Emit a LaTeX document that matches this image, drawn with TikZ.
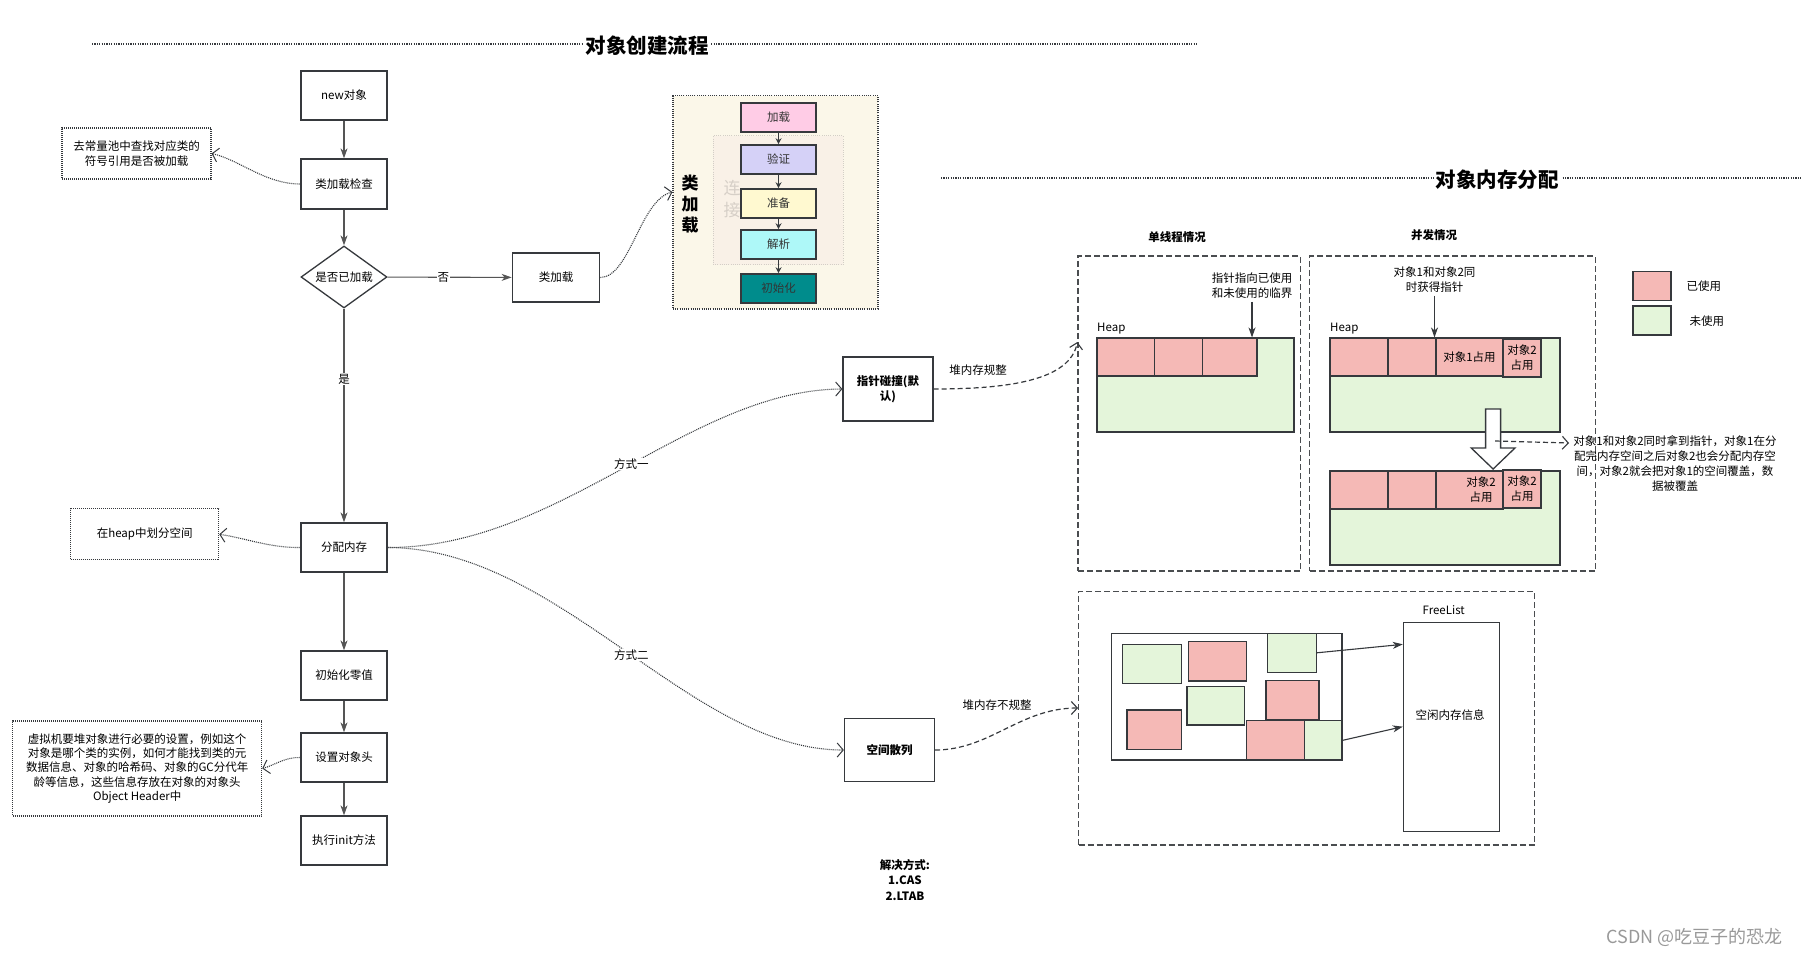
\documentclass[tikz,border=0pt]{standalone}
\usepackage{fontspec}
\setmainfont{Noto Sans CJK SC}
\usetikzlibrary{arrows.meta,shapes.geometric}
\definecolor{boxc}{HTML}{36393D}
\definecolor{arrc}{HTML}{555555}
\definecolor{pinkc}{HTML}{F5B9B6}
\definecolor{greenc}{HTML}{E4F5DA}
\definecolor{creamc}{HTML}{FBF7E9}
\definecolor{connc}{HTML}{F9F1E7}
\definecolor{connline}{HTML}{D3CEC6}
\definecolor{conntext}{HTML}{D6CFC7}
\definecolor{cA}{HTML}{FFCCE6}
\definecolor{cB}{HTML}{D5D1F7}
\definecolor{cC}{HTML}{FFF9D0}
\definecolor{cD}{HTML}{AEF8F8}
\definecolor{cE}{HTML}{008C8C}
\newcommand\normtxt{\fontsize{11.5}{15}\selectfont}
\newcommand\notetxt{\fontsize{11.5}{14.3}\selectfont}
\newcommand\bldtxt{\fontsize{11.5}{15.5}\selectfont\bfseries}
\newcommand\ttltxt{\fontsize{20.5}{24}\selectfont\bfseries}
\newcommand\bigtxt{\fontsize{17}{21.5}\selectfont}
\newcommand\bigbld{\fontsize{17}{21}\selectfont\bfseries}
\begin{document}
\begin{tikzpicture}[x=1pt,y=-1pt,
  fbx/.style={draw=boxc, line width=1.3pt, fill=white, minimum width=86pt, minimum height=49pt, inner sep=1pt, align=center, font=\normtxt},
  notebx/.style={draw=boxc, line width=1.1pt, dash pattern=on 1pt off 1pt, fill=white, inner sep=2pt, align=center, font=\normtxt},
  flow/.style={draw=arrc, line width=1.1pt, -{Stealth[length=10pt,width=7pt,inset=3pt]}},
  sflow/.style={draw=boxc, line width=1.3pt, -{Stealth[length=6pt,width=6pt,inset=2pt]}},
  dotc/.style={draw=boxc, line width=1.1pt, dash pattern=on 1pt off 1pt, -{Straight Barb[length=6pt,width=14pt,line width=1pt]}},
  dashc/.style={draw=boxc, line width=1.2pt, dash pattern=on 5pt off 3pt, -{Straight Barb[length=6pt,width=13pt,line width=1.1pt]}},
  lbl/.style={fill=white, inner sep=1pt, font=\normtxt},
  cls/.style={draw=boxc, line width=1.6pt, minimum width=75pt, minimum height=29pt, inner sep=0pt, font=\normtxt, text=black!80},
  dbx/.style={draw=boxc!90, line width=1.3pt, dash pattern=on 6pt off 3pt},
  sq/.style={draw=boxc, line width=1.1pt, inner sep=0pt},
  solid arrow/.style={draw=boxc, line width=1.1pt, -{Stealth[length=10pt,width=7pt,inset=3pt]}},
  tline/.style={draw=boxc, line width=1.3pt, dash pattern=on 1.2pt off 1.2pt}
]
\useasboundingbox (0,0) rectangle (1801,955);
\fill[white] (0,0) rectangle (1801,955);

% ---------- titles ----------
\coordinate (t1a) at (92,44);
\coordinate (t1b) at (1197,44);
\draw[tline] (t1a) -- (t1b);
\node[fill=white, inner sep=2pt, font=\ttltxt] (title1) at (647,46) {对象创建流程};
\coordinate (t2a) at (941,178);
\coordinate (t2b) at (1801,178);
\draw[tline] (t2a) -- (t2b);
\node[fill=white, inner sep=2pt, font=\ttltxt] (title2) at (1497,180) {对象内存分配};

% ---------- flow chart ----------
\node[fbx] (n1) at (344,95.5) {new对象};
\node[fbx, minimum height=50pt] (n2) at (344,184) {类加载检查};
\node[draw=boxc, line width=1.3pt, fill=white, diamond, aspect=1.4, minimum width=86pt, minimum height=62pt, inner sep=0pt, font=\normtxt] (dd) at (344,277) {是否已加载};
\node[fbx, minimum width=87.5pt] (cl) at (556,277.5) {类加载};
\node[notebx, minimum width=149pt, minimum height=51pt] (nt1) at (136.5,153.5) {去常量池中查找对应类的\\符号引用是否被加载};
\node[fbx] (alloc) at (344,547.5) {分配内存};
\node[notebx, minimum width=148pt, minimum height=51pt] (nt2) at (144.7,534.3) {在heap中划分空间};
\node[fbx] (zero) at (344,675.5) {初始化零值};
\node[fbx] (hdr) at (344,757.5) {设置对象头};
\node[fbx] (init) at (344,840.5) {执行init方法};
\node[notebx, minimum width=249pt, minimum height=95pt, font=\notetxt] (nt3) at (137.2,768.5) {虚拟机要堆对象进行必要的设置，例如这个\\对象是哪个类的实例，如何才能找到类的元\\数据信息、对象的哈希码、对象的GC分代年\\龄等信息，这些信息存放在对象的对象头\\Object Header中};

\draw[flow] (n1) -- (n2);
\draw[flow] (n2) -- (dd);
\draw[flow] (dd) -- node[lbl, pos=0.45] {否} (cl);
\draw[flow] (dd) -- node[lbl, pos=0.33] {是} (alloc);
\draw[flow] (alloc) -- (zero);
\draw[flow] (zero) -- (hdr);
\draw[flow] (hdr) -- (init);

\draw[dotc] (n2.west) .. controls (265,184) and (240,160) .. (nt1.east);
\draw[dotc] (alloc.west) .. controls (270,548) and (245,538) .. (nt2.east);
\draw[dotc] (hdr.west) .. controls (285,757) and (275,765) .. (nt3.east);

% ---------- class loading container ----------
\node[draw=boxc, line width=1.2pt, dash pattern=on 1pt off 1.2pt, fill=creamc, minimum width=205pt, minimum height=213pt] (clbox) at (775.5,202.4) {};
\node[draw=connline, line width=1pt, dash pattern=on 1pt off 1.2pt, fill=connc, minimum width=130pt, minimum height=129pt] (conn) at (778,200.4) {};
\node[font=\bigtxt, text=conntext, align=center] (conntxt) at (732,199) {连\\接};
\node[font=\bigbld, align=center] (cltxt) at (690,204) {类\\加\\载};
\node[cls, fill=cA] (s1) at (778.5,117.5) {加载};
\node[cls, fill=cB] (s2) at (778.5,159.5) {验证};
\node[cls, fill=cC] (s3) at (778.5,203.5) {准备};
\node[cls, fill=cD] (s4) at (778.5,244.5) {解析};
\node[cls, fill=cE] (s5) at (778.5,288.5) {初始化};
\draw[sflow] (s1) -- (s2);
\draw[sflow] (s2) -- (s3);
\draw[sflow] (s3) -- (s4);
\draw[sflow] (s4) -- (s5);
\draw[dotc] (cl.east) .. controls (630,277) and (640,200) .. ([yshift=10.4pt]clbox.west);

% ---------- allocation methods ----------
\node[fbx, minimum width=90pt, minimum height=64pt, font=\bldtxt] (ptr) at (888,389) {指针碰撞(默\\认)};
\node[fbx, minimum width=90pt, minimum height=63pt, font=\bldtxt] (hash) at (889.5,750) {空间散列};
\draw[dotc] (alloc.east) .. controls (560,548) and (690,390) .. node[lbl, pos=0.52] {方式一} (ptr.west);
\draw[dotc] (alloc.east) .. controls (560,548) and (690,750) .. node[lbl, pos=0.52] {方式二} (hash.west);

% ---------- single-thread ----------
\node[font=\bldtxt] (stitle) at (1177,237) {单线程情况};
\node[font=\bldtxt] (ctitle) at (1434,235) {并发情况};
\node[dbx, minimum width=222.6pt, minimum height=315pt] (sbox) at (1189.3,413.5) {};
\node[dbx, minimum width=285.6pt, minimum height=315pt] (cbox) at (1452.6,413.5) {};
\node[font=\normtxt] (lbl1) at (978,370) {堆内存规整};
\draw[dashc] (ptr.east) .. controls (1010,389) and (1070,380) .. ([yshift=71.5pt]sbox.west);

\node[font=\normtxt, anchor=base west, inner sep=0pt] (heap1) at (1097,331) {Heap};
\node[sq, fill=greenc, minimum width=197pt, minimum height=94pt] (sh) at (1195.5,385) {};
\draw[sq, fill=pinkc] (1097,338) rectangle (1154.6,376);
\draw[sq, fill=pinkc] (1154.6,338) rectangle (1202.9,376);
\draw[sq, fill=pinkc] (1202.9,338) rectangle (1257,376);
\node[font=\normtxt, align=center] (ptxt) at (1252,285.5) {指针指向已使用\\和未使用的临界};
\draw[solid arrow] (ptxt.south) -- (ptxt.south |- sh.north);

% ---------- concurrent ----------
\node[font=\normtxt, anchor=base west, inner sep=0pt] (heap2) at (1330,331) {Heap};
\node[sq, fill=greenc, minimum width=230pt, minimum height=94pt] (ctop) at (1445,385) {};
\draw[sq, fill=pinkc] (1330,338) rectangle (1388,376);
\draw[sq, fill=pinkc] (1388,338) rectangle (1436,376);
\draw[sq, fill=pinkc] (1436,338) rectangle (1503,376);
\draw[sq, fill=pinkc] (1503,339) rectangle (1541,377);
\node[font=\normtxt] (o1) at (1469.5,357) {对象1占用};
\node[font=\normtxt, align=center] (o2) at (1522,358) {对象2\\占用};
\node[font=\normtxt, align=center] (ctxt) at (1434.5,279.5) {对象1和对象2同\\时获得指针};
\draw[solid arrow] (ctxt.south) -- (ctxt.south |- ctop.north);

\node[sq, fill=greenc, minimum width=230pt, minimum height=94pt] (cbot) at (1445,518) {};
\draw[sq, fill=pinkc] (1330,471) rectangle (1388,509);
\draw[sq, fill=pinkc] (1388,471) rectangle (1436,509);
\draw[sq, fill=pinkc] (1436,471) rectangle (1503,509);
\draw[sq, fill=pinkc] (1503,470) rectangle (1541,508);
\node[font=\normtxt, align=center] (o3) at (1481,490) {对象2\\占用};
\node[font=\normtxt, align=center] (o4) at (1522,489) {对象2\\占用};

\draw[draw=boxc, line width=1.3pt, fill=white] (1485.6,409) -- (1500.6,409) -- (1500.6,448) -- (1515,448) -- (1493.1,469) -- (1471.2,448) -- (1485.6,448) -- cycle;
\coordinate (hs) at (1495,441);
\coordinate (dt) at (1569,443);
\draw[dashc] (hs) -- (dt);
\node[font=\normtxt, align=center] (desc) at (1675,464) {对象1和对象2同时拿到指针，对象1在分\\配完内存空间之后对象2也会分配内存空\\间，对象2就会把对象1的空间覆盖，数\\据被覆盖};

% legend
\node[sq, fill=pinkc, minimum width=38pt, minimum height=28.5pt] (lgp) at (1652,286) {};
\node[sq, fill=greenc, minimum width=38pt, minimum height=29pt] (lgg) at (1652,320.5) {};
\node[font=\normtxt, anchor=west] (lgpt) at (1683,285.7) {已使用};
\node[font=\normtxt, anchor=west] (lggt) at (1686,320.7) {未使用};

% ---------- free list ----------
\node[dbx, minimum width=456pt, minimum height=253.3pt] (flc) at (1306.7,718.35) {};
\node[font=\normtxt] (lbl2) at (997,705) {堆内存不规整};
\draw[dashc] (hash.east) .. controls (990,750) and (1020,708) .. ([yshift=10.35pt]flc.west);
\node[font=\normtxt] (flt) at (1443.7,610) {FreeList};
\node[draw=boxc, line width=1.3pt, fill=white, minimum width=95.8pt, minimum height=209pt] (fl) at (1451.3,727.2) {};
\node[font=\normtxt] (flx) at (1450,715) {空闲内存信息};
\node[draw=boxc, line width=1.6pt, fill=white, minimum width=230.7pt, minimum height=126.7pt] (mb) at (1226.65,696.65) {};
\node[sq, fill=greenc, minimum width=58.9pt, minimum height=38.6pt] (g1) at (1152.25,664) {};
\node[sq, fill=pinkc, minimum width=58pt, minimum height=39.3pt] (p1) at (1217.4,661.35) {};
\node[sq, fill=greenc, minimum width=48.4pt, minimum height=39pt] (g2) at (1292.1,652.8) {};
\node[sq, fill=greenc, minimum width=57.4pt, minimum height=38.3pt] (g3) at (1215.7,705.85) {};
\node[sq, fill=pinkc, minimum width=53pt, minimum height=38.6pt] (p2) at (1292.5,700) {};
\node[sq, fill=pinkc, minimum width=54.2pt, minimum height=39.3pt] (p3) at (1154.1,729.65) {};
\node[sq, fill=pinkc, minimum width=57.9pt, minimum height=39.3pt] (p4) at (1275.35,740.35) {};
\node[sq, fill=greenc, minimum width=37.7pt, minimum height=39.3pt] (g4) at (1323.15,740.35) {};
\draw[solid arrow] (g2.east) -- ([yshift=-22.3pt]fl.north west);
\draw[solid arrow] (g4.east) -- ([yshift=-104.6pt]fl.north west);

% ---------- solution text ----------
\node[font=\bldtxt, align=center] (sol) at (905,880) {解决方式:\\1.CAS\\2.LTAB};

% ---------- watermark ----------
\node[anchor=east, font=\fontsize{18}{20}\selectfont, text=black!40] (wm) at (1786,937) {CSDN @吃豆子的恐龙};
\end{tikzpicture}
\end{document}
